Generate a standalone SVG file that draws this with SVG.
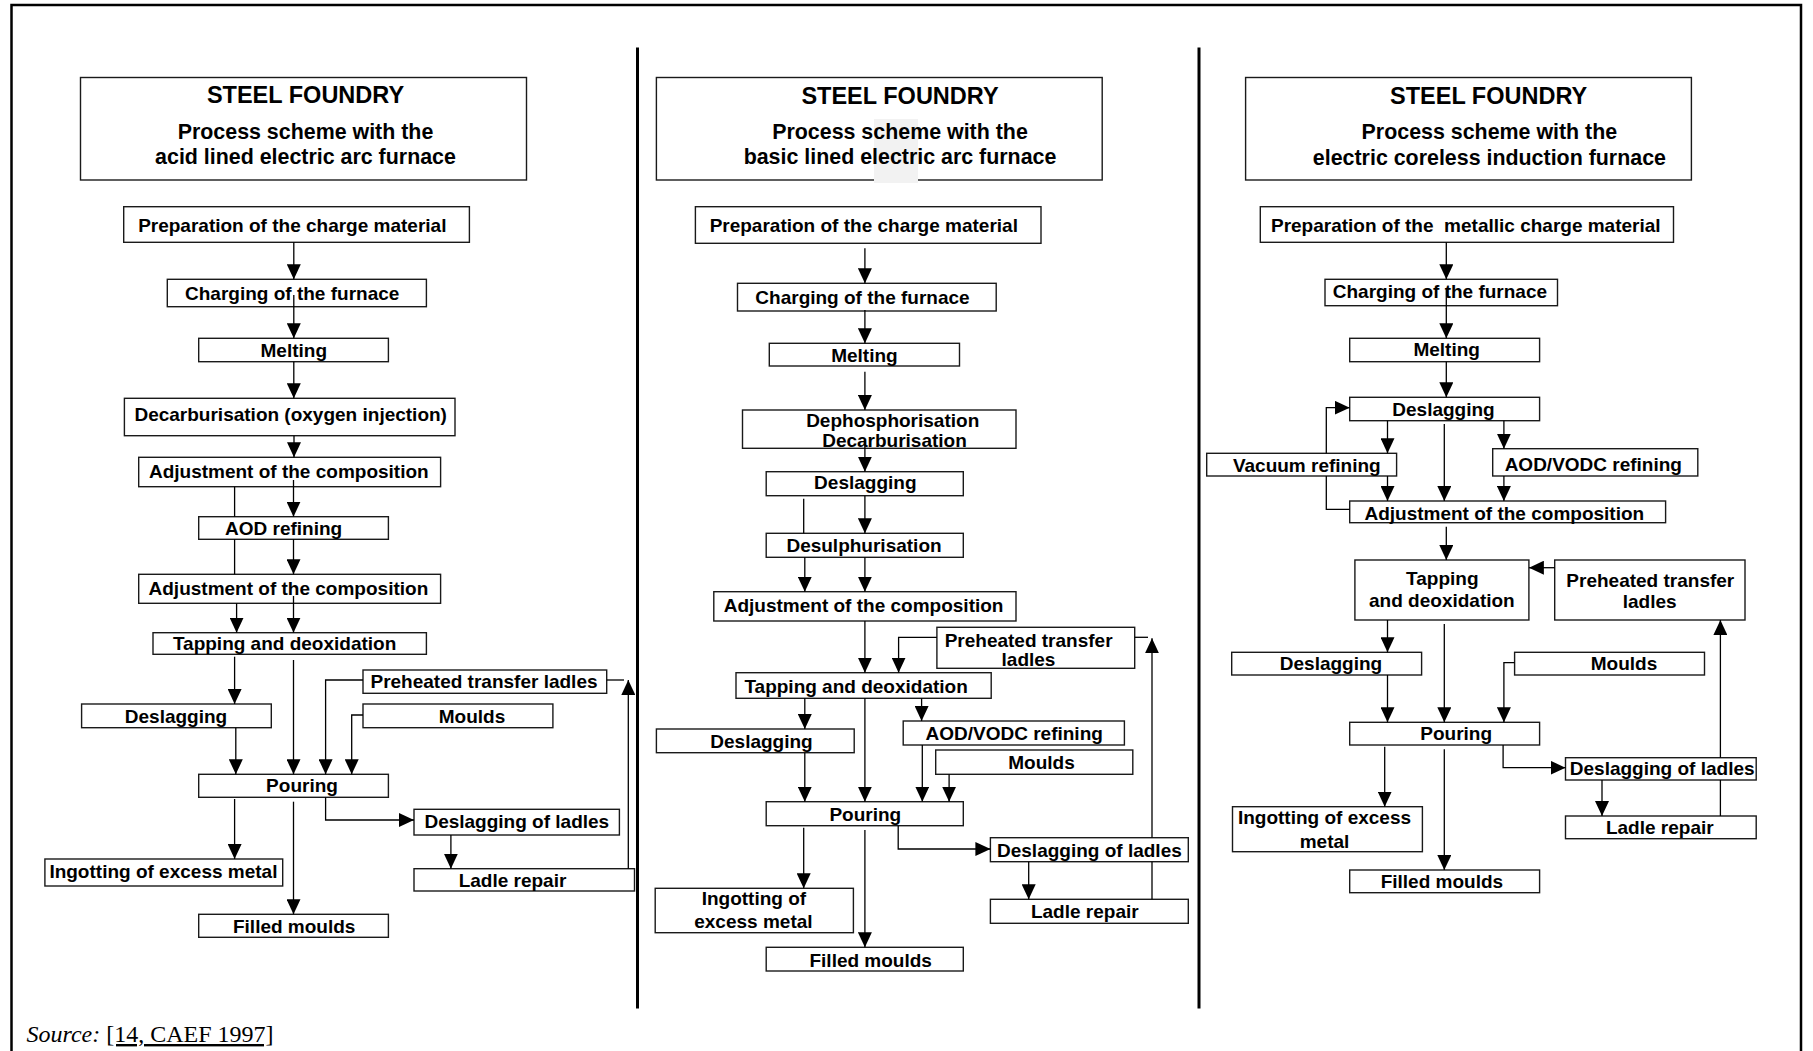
<svg xmlns="http://www.w3.org/2000/svg" width="1813" height="1051" viewBox="0 0 1813 1051">
<style>
.bg{fill:#fff}
.frame{fill:none;stroke:#000;stroke-width:2.5}
.div{stroke:#000;stroke-width:3}
.box{fill:#fff;stroke:#1a1a1a;stroke-width:1.4}
.t{font-family:"Liberation Sans",Arial,sans-serif;font-weight:bold;font-size:19px;text-anchor:middle;fill:#000;white-space:pre}
.h1{font-size:23.5px}
.h2{font-size:21.4px}
.c{fill:none;stroke:#000;stroke-width:1.3}
.src{font-family:"Liberation Serif","Times New Roman",serif;font-size:24px;fill:#000}
</style>
<defs>
<marker id="ah" markerUnits="userSpaceOnUse" markerWidth="15" markerHeight="14" refX="15" refY="7" orient="auto">
<path d="M0,0 L15,7 L0,14 z" fill="#000"/>
</marker>
</defs>
<rect class="bg" x="0" y="0" width="1813" height="1051"/>
<g id="frame">
<path class="frame" d="M11.5,1055 V5 H1801 V1055"/>
<line class="div" x1="637.5" y1="47.5" x2="637.5" y2="1008.5"/>
<line class="div" x1="1199" y1="47.5" x2="1199" y2="1008.5"/>
</g>

<g id="nodes">
<!-- Column 1 -->
<g id="c1-header"><rect class="box" x="80.5" y="77.5" width="446" height="102.5"/>
<text class="t h1" x="305.5" y="103">STEEL FOUNDRY</text>
<text class="t h2" x="305.5" y="138.7">Process scheme with the</text>
<text class="t h2" x="305.5" y="163.5">acid lined electric arc furnace</text></g>
<g id="c1-prep"><rect class="box" x="123.7" y="206.7" width="345.7" height="35.6"/><text class="t" x="292.3" y="232">Preparation of the charge material</text></g>
<g id="c1-charging"><rect class="box" x="167.3" y="279.3" width="259.1" height="27.4"/><text class="t" x="292.2" y="300">Charging of the furnace</text></g>
<g id="c1-melting"><rect class="box" x="198.7" y="338.3" width="189.7" height="23.4"/><text class="t" x="293.8" y="356.7">Melting</text></g>
<g id="c1-decarb"><rect class="box" x="124.4" y="398.3" width="330.6" height="37.4"/><text class="t" x="290.7" y="421">Decarburisation (oxygen injection)</text></g>
<g id="c1-adj1"><rect class="box" x="138.7" y="457.3" width="301.9" height="29.4"/><text class="t" x="288.8" y="478.3">Adjustment of the composition</text></g>
<g id="c1-aod"><rect class="box" x="198.7" y="516.7" width="189.7" height="22.6"/><text class="t" x="283.6" y="535">AOD refining</text></g>
<g id="c1-adj2"><rect class="box" x="138.7" y="574.3" width="301.9" height="29"/><text class="t" x="288.4" y="595">Adjustment of the composition</text></g>
<g id="c1-tapping"><rect class="box" x="153" y="632.7" width="273.4" height="21.6"/><text class="t" x="284.6" y="650">Tapping and deoxidation</text></g>
<g id="c1-preheated"><rect class="box" x="363" y="670" width="243.7" height="23.3"/><text class="t" x="484" y="688.3">Preheated transfer ladles</text></g>
<g id="c1-deslag"><rect class="box" x="81.6" y="704" width="189.7" height="23.7"/><text class="t" x="176" y="722.7">Deslagging</text></g>
<g id="c1-moulds"><rect class="box" x="363" y="704" width="189.9" height="23.7"/><text class="t" x="472" y="722.7">Moulds</text></g>
<g id="c1-pouring"><rect class="box" x="198.7" y="774.3" width="189.7" height="23"/><text class="t" x="302" y="792.3">Pouring</text></g>
<g id="c1-deslag-ladles"><rect class="box" x="414" y="809.3" width="205.4" height="25.7"/><text class="t" x="516.8" y="828.3">Deslagging of ladles</text></g>
<g id="c1-ladle-repair"><rect class="box" x="414" y="868.7" width="220.5" height="22.3"/><text class="t" x="512.5" y="886.7">Ladle repair</text></g>
<g id="c1-ingot"><rect class="box" x="44.9" y="859" width="237.8" height="27"/><text class="t" x="163.4" y="878.3">Ingotting of excess metal</text></g>
<g id="c1-filled"><rect class="box" x="198.7" y="914.3" width="189.7" height="23"/><text class="t" x="294.2" y="933.3">Filled moulds</text></g>

<!-- Column 2 -->
<g id="c2-header"><rect class="box" x="656.4" y="77.5" width="445.8" height="102.5"/>
<rect x="874" y="119" width="44" height="64" fill="#f2f2f2"/>
<text class="t h1" x="900" y="104">STEEL FOUNDRY</text>
<text class="t h2" x="900" y="139">Process scheme with the</text>
<text class="t h2" x="900" y="164.3">basic lined electric arc furnace</text></g>
<g id="c2-prep"><rect class="box" x="695.4" y="206.7" width="345.6" height="36.6"/><text class="t" x="863.8" y="232.3">Preparation of the charge material</text></g>
<g id="c2-charging"><rect class="box" x="737.5" y="283.3" width="258.7" height="27.7"/><text class="t" x="862.5" y="304">Charging of the furnace</text></g>
<g id="c2-melting"><rect class="box" x="769.3" y="343.3" width="190.2" height="22.7"/><text class="t" x="864.4" y="361.7">Melting</text></g>
<g id="c2-dephos"><rect class="box" x="742.5" y="410" width="273.5" height="38.3"/><text class="t" x="892.7" y="427.3">Dephosphorisation</text><text class="t" x="894.5" y="447.3">Decarburisation</text></g>
<g id="c2-deslag1"><rect class="box" x="766.2" y="471.7" width="197.1" height="24"/><text class="t" x="865.3" y="489">Deslagging</text></g>
<g id="c2-desulph"><rect class="box" x="766.2" y="533.3" width="197.1" height="24"/><text class="t" x="864" y="551.7">Desulphurisation</text></g>
<g id="c2-adj"><rect class="box" x="713.8" y="591.7" width="302.2" height="29.3"/><text class="t" x="863.6" y="611.7">Adjustment of the composition</text></g>
<g id="c2-preheated"><rect class="box" x="936.9" y="627.3" width="197.8" height="41"/><text class="t" x="1028.6" y="647.3">Preheated transfer</text><text class="t" x="1028.5" y="666">ladles</text></g>
<g id="c2-tapping"><rect class="box" x="736" y="672.7" width="255.2" height="25.6"/><text class="t" x="856.1" y="692.7">Tapping and deoxidation</text></g>
<g id="c2-deslag2"><rect class="box" x="656.4" y="729" width="197.8" height="23.7"/><text class="t" x="761.5" y="747.7">Deslagging</text></g>
<g id="c2-aod"><rect class="box" x="903.2" y="721" width="221.2" height="24"/><text class="t" x="1014.2" y="740">AOD/VODC refining</text></g>
<g id="c2-moulds"><rect class="box" x="935.7" y="750" width="197.1" height="24.3"/><text class="t" x="1041.5" y="769.3">Moulds</text></g>
<g id="c2-pouring"><rect class="box" x="766.2" y="801.7" width="197.1" height="24"/><text class="t" x="865.3" y="821">Pouring</text></g>
<g id="c2-deslag-ladles"><rect class="box" x="990.4" y="837.7" width="197.9" height="24"/><text class="t" x="1089.4" y="856.7">Deslagging of ladles</text></g>
<g id="c2-ladle-repair"><rect class="box" x="990.4" y="899.3" width="197.9" height="24"/><text class="t" x="1084.8" y="918.3">Ladle repair</text></g>
<g id="c2-ingot"><rect class="box" x="655.2" y="888.3" width="198.2" height="44.4"/><text class="t" x="753.9" y="905">Ingotting of</text><text class="t" x="753.4" y="928.3">excess metal</text></g>
<g id="c2-filled"><rect class="box" x="766.2" y="947.3" width="197.1" height="23.7"/><text class="t" x="870.7" y="966.7">Filled moulds</text></g>

<!-- Column 3 -->
<g id="c3-header"><rect class="box" x="1245.6" y="77.5" width="445.8" height="102.5"/>
<text class="t h1" x="1488.6" y="104">STEEL FOUNDRY</text>
<text class="t h2" x="1489.4" y="139">Process scheme with the</text>
<text class="t h2" x="1489.4" y="165">electric coreless induction furnace</text></g>
<g id="c3-prep"><rect class="box" x="1260.3" y="206.7" width="413.2" height="35.6"/><text class="t" x="1465.8" y="231.7">Preparation of the  metallic charge material</text></g>
<g id="c3-charging"><rect class="box" x="1325" y="279.3" width="232.5" height="26.4"/><text class="t" x="1439.9" y="298.3">Charging of the furnace</text></g>
<g id="c3-melting"><rect class="box" x="1349.7" y="338.3" width="189.9" height="23.4"/><text class="t" x="1446.7" y="356">Melting</text></g>
<g id="c3-deslag1"><rect class="box" x="1349.7" y="397.3" width="189.9" height="23.4"/><text class="t" x="1443.5" y="416">Deslagging</text></g>
<g id="c3-vacuum"><rect class="box" x="1206.7" y="453.3" width="189.9" height="22.7"/><text class="t" x="1306.8" y="472.3">Vacuum refining</text></g>
<g id="c3-aod"><rect class="box" x="1492.7" y="448.7" width="205.1" height="27.3"/><text class="t" x="1593.3" y="470.7">AOD/VODC refining</text></g>
<g id="c3-adj"><rect class="box" x="1349.7" y="501" width="315.9" height="21.7"/><text class="t" x="1504.3" y="520">Adjustment of the composition</text></g>
<g id="c3-tapping"><rect class="box" x="1354.9" y="560" width="174" height="60"/><text class="t" x="1442.3" y="585">Tapping</text><text class="t" x="1441.9" y="606.7">and deoxidation</text></g>
<g id="c3-preheated"><rect class="box" x="1554.7" y="560" width="190.3" height="60"/><text class="t" x="1650.3" y="586.7">Preheated transfer</text><text class="t" x="1649.7" y="608.3">ladles</text></g>
<g id="c3-deslag2"><rect class="box" x="1231.7" y="652.3" width="189.9" height="22.7"/><text class="t" x="1331" y="670">Deslagging</text></g>
<g id="c3-moulds"><rect class="box" x="1514.6" y="652.3" width="189.9" height="22.7"/><text class="t" x="1624" y="670">Moulds</text></g>
<g id="c3-pouring"><rect class="box" x="1349.7" y="722.3" width="189.9" height="22.7"/><text class="t" x="1456.2" y="740">Pouring</text></g>
<g id="c3-deslag-ladles"><rect class="box" x="1565.5" y="757.7" width="190.7" height="22.3"/><text class="t" x="1662.2" y="775">Deslagging of ladles</text></g>
<g id="c3-ladle-repair"><rect class="box" x="1565.5" y="816" width="190.7" height="22.7"/><text class="t" x="1659.8" y="834">Ladle repair</text></g>
<g id="c3-ingot"><rect class="box" x="1232.5" y="806.7" width="189.9" height="45"/><text class="t" x="1324.5" y="824">Ingotting of excess</text><text class="t" x="1324.5" y="847.7">metal</text></g>
<g id="c3-filled"><rect class="box" x="1349.7" y="870" width="189.9" height="22.7"/><text class="t" x="1441.9" y="888.3">Filled moulds</text></g>
</g>

<g id="connectors">
<!-- Column 1 -->
<path class="c" marker-end="url(#ah)" d="M293.8,242.3 V279.3"/>
<path class="c" marker-end="url(#ah)" d="M293.8,295 V338.3"/>
<path class="c" marker-end="url(#ah)" d="M293.8,361.7 V398.3"/>
<path class="c" marker-end="url(#ah)" d="M294,435.7 V457.3"/>
<path class="c" marker-end="url(#ah)" d="M293.5,480 V516.7"/>
<path class="c" marker-end="url(#ah)" d="M293.5,539.3 V574.3"/>
<path class="c" d="M234.6,486.7 V516.7 M234.6,539.3 V574.3"/>
<path class="c" marker-end="url(#ah)" d="M236.6,603.3 V632.7"/>
<path class="c" marker-end="url(#ah)" d="M293.5,596 V632.7"/>
<path class="c" marker-end="url(#ah)" d="M234.6,656.7 V704"/>
<path class="c" marker-end="url(#ah)" d="M293.5,660 V774.3"/>
<path class="c" marker-end="url(#ah)" d="M363,680 H325.6 V774.3"/>
<path class="c" marker-end="url(#ah)" d="M363,715 H351.7 V774.3"/>
<path class="c" marker-end="url(#ah)" d="M235.8,727.7 V774.3"/>
<path class="c" marker-end="url(#ah)" d="M234.6,799 V859"/>
<path class="c" marker-end="url(#ah)" d="M293.5,801.7 V914.3"/>
<path class="c" marker-end="url(#ah)" d="M325.6,797.3 V820 H414"/>
<path class="c" marker-end="url(#ah)" d="M450.9,835 V868.7"/>
<path class="c" marker-end="url(#ah)" d="M628.3,868.7 V680"/>
<path class="c" d="M606.7,680 H624"/>
<!-- Column 2 -->
<path class="c" marker-end="url(#ah)" d="M864.9,248.3 V283.3"/>
<path class="c" marker-end="url(#ah)" d="M864.9,310 V343.3"/>
<path class="c" marker-end="url(#ah)" d="M864.9,371.7 V410"/>
<path class="c" marker-end="url(#ah)" d="M864.9,440 V471.7"/>
<path class="c" marker-end="url(#ah)" d="M864.9,495.7 V533.3"/>
<path class="c" d="M803.7,498.7 V533.3"/>
<path class="c" marker-end="url(#ah)" d="M804.8,557.3 V591.7"/>
<path class="c" marker-end="url(#ah)" d="M864.9,557.3 V591.7"/>
<path class="c" marker-end="url(#ah)" d="M864.9,621 V672.7"/>
<path class="c" marker-end="url(#ah)" d="M936.9,637.3 H898.6 V672.7"/>
<path class="c" d="M1152,899.3 V861.7"/>
<path class="c" marker-end="url(#ah)" d="M1152,837.7 V638.3"/>
<path class="c" d="M1134.7,637.3 H1148"/>
<path class="c" marker-end="url(#ah)" d="M804.8,698.3 V729"/>
<path class="c" marker-end="url(#ah)" d="M864.9,698.3 V801.7"/>
<path class="c" marker-end="url(#ah)" d="M921.6,698.3 V721"/>
<path class="c" marker-end="url(#ah)" d="M804.8,752.7 V801.7"/>
<path class="c" marker-end="url(#ah)" d="M922.3,745 V801.7"/>
<path class="c" marker-end="url(#ah)" d="M949.1,774.3 V801.7"/>
<path class="c" marker-end="url(#ah)" d="M803.7,827.7 V888.3"/>
<path class="c" marker-end="url(#ah)" d="M864.9,830 V947.3"/>
<path class="c" marker-end="url(#ah)" d="M898.2,825.7 V849 H990.4"/>
<path class="c" marker-end="url(#ah)" d="M1028.7,861.7 V899.3"/>
<!-- Column 3 -->
<path class="c" marker-end="url(#ah)" d="M1446.3,242.3 V279.3"/>
<path class="c" marker-end="url(#ah)" d="M1446.3,290 V338.3"/>
<path class="c" marker-end="url(#ah)" d="M1446.3,361.7 V397.3"/>
<path class="c" marker-end="url(#ah)" d="M1387.5,420.7 V453.3"/>
<path class="c" marker-end="url(#ah)" d="M1444.3,424 V501"/>
<path class="c" marker-end="url(#ah)" d="M1503.9,420.7 V448.7"/>
<path class="c" marker-end="url(#ah)" d="M1387.5,476 V501"/>
<path class="c" marker-end="url(#ah)" d="M1503.9,476 V501"/>
<path class="c" d="M1349.7,509.3 H1326.3 V476"/>
<path class="c" marker-end="url(#ah)" d="M1326.3,453.3 V407.7 H1349.7"/>
<path class="c" marker-end="url(#ah)" d="M1446.3,526.7 V560"/>
<path class="c" marker-end="url(#ah)" d="M1554.7,567.7 H1528.9"/>
<path class="c" d="M1720.4,816 V780"/>
<path class="c" marker-end="url(#ah)" d="M1720.4,757.7 V620"/>
<path class="c" marker-end="url(#ah)" d="M1387.5,620 V652.3"/>
<path class="c" marker-end="url(#ah)" d="M1444.3,624 V722.3"/>
<path class="c" marker-end="url(#ah)" d="M1514.6,662.7 H1503.9 V722.3"/>
<path class="c" marker-end="url(#ah)" d="M1387.5,675 V722.3"/>
<path class="c" marker-end="url(#ah)" d="M1384.7,746.7 V806.7"/>
<path class="c" marker-end="url(#ah)" d="M1444.3,749.3 V870"/>
<path class="c" marker-end="url(#ah)" d="M1503.1,745 V767.7 H1565.5"/>
<path class="c" marker-end="url(#ah)" d="M1602,780 V816"/>
</g>

<g id="source">
<text class="src" x="26.5" y="1042"><tspan font-style="italic">Source:</tspan> <tspan text-decoration="underline">[14, CAEF 1997]</tspan></text>
</g>
</svg>
